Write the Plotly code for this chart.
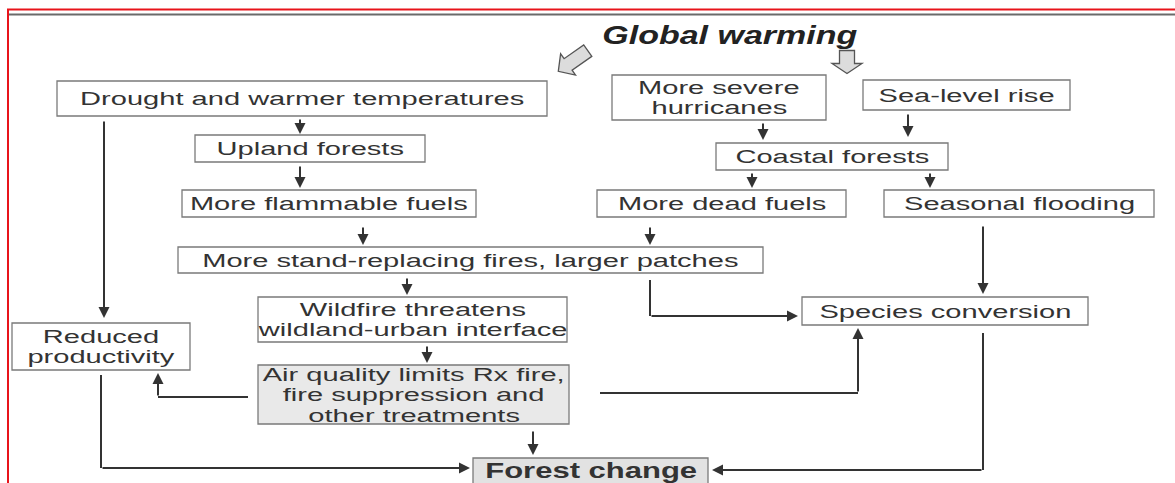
import math
import json
import plotly.graph_objects as go

W, H = 1175, 483

# ---- content (text of the nodes) ----
title = "Global warming"
node_ids = ["drought", "hurricanes", "sealevel", "upland", "coastal", "flammable",
            "dead", "flooding", "standrepl", "species", "wildfire", "reduced",
            "airq", "forest"]
node_labels = ["Drought and warmer temperatures", "More severe<br>hurricanes",
               "Sea-level rise", "Upland forests", "Coastal forests",
               "More flammable fuels", "More dead fuels", "Seasonal flooding",
               "More stand-replacing fires, larger patches", "Species conversion",
               "Wildfire threatens<br>wildland-urban interface", "Reduced<br>productivity",
               "Air quality limits Rx fire,<br>fire suppression and<br>other treatments",
               "Forest change"]

# ---- layout geometry (pixels) ----
box_geom = {
    "drought": (57, 81, 547, 116),
    "hurricanes": (612, 75, 826, 120),
    "sealevel": (863, 80, 1070, 110),
    "upland": (195, 135, 425, 162),
    "coastal": (716, 143, 948, 170),
    "flammable": (182, 190, 476, 217),
    "dead": (597, 190, 846, 217),
    "flooding": (884, 190, 1154, 217),
    "standrepl": (178, 247, 763, 273),
    "species": (802, 297, 1088, 325),
    "wildfire": (258, 297, 567, 342),
    "reduced": (12, 323, 190, 370),
    "airq": (258, 365, 569, 424),
    "forest": (473, 458, 708, 495),
}
shaded = {"airq": "#e9e9e9", "forest": "#e2e2e2"}

straight_arrows = [
    ((300, 118), (300, 134)), ((763, 122), (763, 140)), ((908, 113), (908, 137)),
    ((300, 165), (300, 188)), ((752, 172), (752, 188)), ((930, 172), (930, 188)),
    ((363, 226), (363, 245)), ((650, 226), (650, 245)), ((407, 277), (407, 295)),
    ((983, 225), (983, 294)), ((427, 345), (427, 363)), ((533, 430), (533, 455)),
    ((104, 120), (104, 318)),
]
poly_arrows = [
    [(650, 280), (650, 316), (798, 316)],
    [(248, 397), (158, 397), (158, 373)],
    [(101, 375), (101, 468), (470, 468)],
    [(600, 393), (858, 393), (858, 328)],
    [(983, 333), (983, 470), (712, 470)],
]

FONT = "Liberation Sans, Arial, sans-serif"
TXT = "#333333"
LINE = "#333333"
BODY_SIZE, BODY_STRETCH, LINE_GAP = 19, 1.53, 20.5

shapes = []
annotations = []
stretch = []  # horizontal stretch per annotation

# frame lines
shapes.append(dict(type="line", x0=7, x1=W, y0=9.5, y1=9.5, line=dict(color="#e8141b", width=2)))
shapes.append(dict(type="line", x0=8, x1=8, y0=9, y1=H, line=dict(color="#e8141b", width=2)))
shapes.append(dict(type="line", x0=9, x1=W, y0=14.5, y1=14.5, line=dict(color="#6a6a6a", width=2)))

# boxes + labels
for nid, lab in zip(node_ids, node_labels):
    x0, y0, x1, y1 = box_geom[nid]
    shapes.append(dict(type="rect", x0=x0, x1=x1, y0=y0, y1=y1,
                       line=dict(color="#7a7a7a", width=1.3),
                       fillcolor=shaded.get(nid, "white"), layer="below"))
    lines = lab.split("<br>")
    if nid == "forest":
        annotations.append(dict(x=(x0 + x1) / 2, y=470.5, xref="x", yref="y",
                                text=f"<b>{lab}</b>", showarrow=False,
                                font=dict(family=FONT, size=22, color=TXT)))
        stretch.append(1.41)
        continue
    cy = (y0 + y1) / 2
    n = len(lines)
    for k, ln in enumerate(lines):
        annotations.append(dict(x=(x0 + x1) / 2, y=cy + (k - (n - 1) / 2) * LINE_GAP,
                                xref="x", yref="y", text=ln, showarrow=False,
                                font=dict(family=FONT, size=BODY_SIZE, color=TXT)))
        stretch.append(BODY_STRETCH)

# title
annotations.append(dict(x=730, y=35, xref="x", yref="y", text=f"<b><i>{title}</i></b>",
                        showarrow=False, font=dict(family=FONT, size=25, color="#222")))
stretch.append(1.36)


def arrow(p_from, p_to):
    annotations.append(dict(x=p_to[0], y=p_to[1], ax=p_from[0], ay=p_from[1],
                            xref="x", yref="y", axref="x", ayref="y", text="",
                            showarrow=True, arrowhead=2, arrowsize=1.1,
                            arrowwidth=2, arrowcolor=LINE, standoff=0))
    stretch.append(1)


for a, b in straight_arrows:
    arrow(a, b)
for pts in poly_arrows:
    path = "M " + " L ".join(f"{x},{y}" for x, y in pts[:-1])
    shapes.append(dict(type="path", path=path, line=dict(color=LINE, width=2)))
    arrow(pts[-2], pts[-1])


# hollow block arrows from the title
def block_arrow(cx, cy, angle_deg, length, shaft_w, head_w, head_l):
    pts_local = [(-length / 2, -shaft_w / 2), (length / 2 - head_l, -shaft_w / 2),
                 (length / 2 - head_l, -head_w / 2), (length / 2, 0),
                 (length / 2 - head_l, head_w / 2), (length / 2 - head_l, shaft_w / 2),
                 (-length / 2, shaft_w / 2)]
    a = math.radians(angle_deg)
    pts = [(cx + x * math.cos(a) - y * math.sin(a), cy + x * math.sin(a) + y * math.cos(a))
           for x, y in pts_local]
    path = "M " + " L ".join(f"{x:.1f},{y:.1f}" for x, y in pts) + " Z"
    shapes.append(dict(type="path", path=path, fillcolor="#dcdcdc",
                       line=dict(color="#555555", width=1.3)))


block_arrow(847, 62, 90, 23, 15, 30, 10)
block_arrow(573, 61, 145, 36, 14, 26, 12)

fig = go.Figure()
fig.update_layout(
    width=W, height=H, margin=dict(l=0, r=0, t=0, b=0),
    paper_bgcolor="white", plot_bgcolor="white",
    xaxis=dict(range=[0, W], visible=False, fixedrange=True),
    yaxis=dict(range=[H, 0], visible=False, fixedrange=True),
    shapes=shapes, annotations=annotations, showlegend=False,
)

post = """
document.body.style.margin = '0';
document.body.style.overflow = 'hidden';
var gd = document.getElementById('{plot_id}');
var sc = %s;
gd.querySelectorAll('g.annotation').forEach(function(g){
  var i = +g.getAttribute('data-index');
  var s = sc[i];
  if (!s || s === 1) return;
  var t = g.querySelector('text.annotation-text');
  if (!t) return;
  var bb = t.getBBox();
  var cx = bb.x + bb.width / 2;
  t.setAttribute('transform', 'translate(' + cx + ',0) scale(' + s + ',1) translate(' + (-cx) + ',0)');
});
""" % json.dumps(stretch)

fig.write_html("out.html", post_script=post, config={"displayModeBar": False})
